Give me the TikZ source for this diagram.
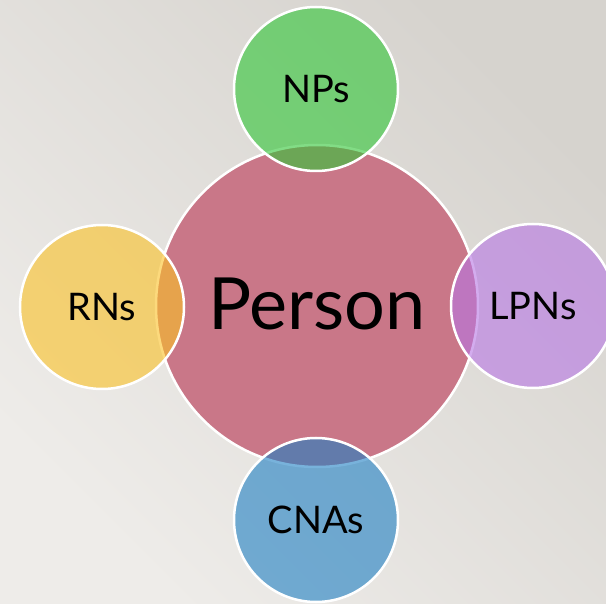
\documentclass[tikz,border=0pt]{standalone}
\usepackage{fontspec}
\setmainfont{Lato}
\usepackage{tikz}
\definecolor{bg_light}{RGB}{238,236,233}
\definecolor{bg_dark}{RGB}{214,211,206}
\definecolor{node_red}{RGB}{201,119,136}
\definecolor{node_green}{RGB}{47,198,53}
\definecolor{node_yellow}{RGB}{250,193,37}
\definecolor{node_purple}{RGB}{183,118,228}
\definecolor{node_blue}{RGB}{30,127,195}

\begin{document}
\begin{tikzpicture}[x=1pt,y=-1pt]
    \tikzstyle{node}=[draw=white, line width=2.5pt, circle, inner sep=0pt, text=black, text opacity=1]
    \tikzstyle{core}=[style=node, minimum size=322pt, fill=node_red, font=\fontsize{72}{74}\selectfont]
    \tikzstyle{sat}=[style=node, minimum size=164pt, fill opacity=0.6, font=\fontsize{38}{40}\selectfont]

    \shade[left color=bg_light, right color=bg_dark, shading angle=135] (0,0) rectangle (606,604);
    \useasboundingbox (0,0) rectangle (606,604);

    \node[core] (person) at (317,306) {\raisebox{4pt}{Person}};
    \node[sat,fill=node_green]  (np)  at (316,89)  {NPs};
    \node[sat,fill=node_yellow] (rn)  at (102,307) {RNs};
    \node[sat,fill=node_purple] (lpn) at (533,306) {LPNs};
    \node[sat,fill=node_blue]   (cna) at (316,520) {CNAs};
\end{tikzpicture}
\end{document}
